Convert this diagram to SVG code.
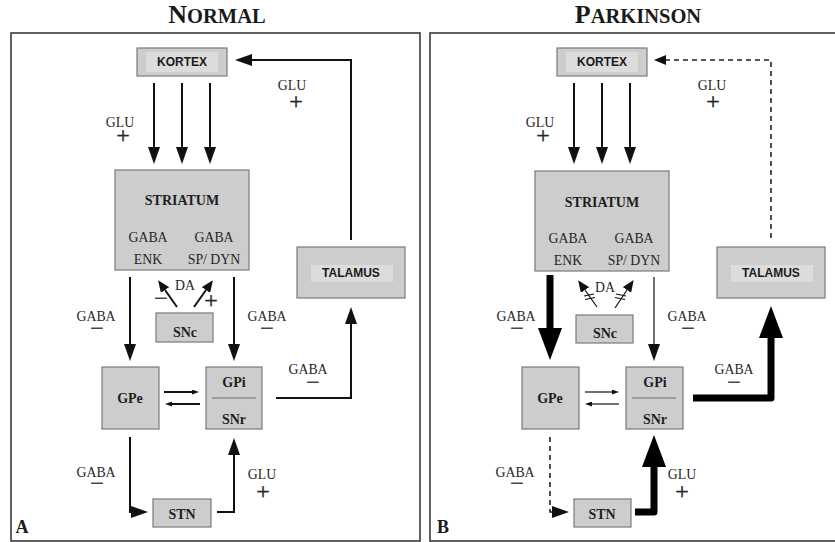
<svg xmlns="http://www.w3.org/2000/svg" width="835" height="542" viewBox="0 0 835 542">
<style>
.frame{fill:none;stroke:#3a3a3a;stroke-width:1.6}
.box{fill:#cdcdcd;stroke:#7a7a7a;stroke-width:1.2}
.inner{fill:#dcdcdc;stroke:none}
.div{stroke:#6e6e6e;stroke-width:1.2}
.t{font-family:"Liberation Serif","Times New Roman",serif;text-anchor:middle;fill:#262626}
.lab{font-size:13.8px}
.sign{font-size:24px;stroke:#262626;stroke-width:0.4}
.nb{font-family:"Liberation Serif","Times New Roman",serif;font-weight:bold;font-size:14px;text-anchor:middle;fill:#1e1e1e}
.ns{font-family:"Liberation Sans",Arial,sans-serif;font-weight:bold;font-size:12px;text-anchor:middle;fill:#1a1a1a}
.title{font-family:"Liberation Serif","Times New Roman",serif;font-weight:bold;text-anchor:middle;fill:#1a1a1a}
.c{fill:none;stroke:#111;stroke-width:2}
.thin{fill:none;stroke:#111;stroke-width:1.2}
.thick{fill:none;stroke:#000;stroke-width:7;stroke-linejoin:round}
.dash{fill:none;stroke:#222;stroke-width:1.6;stroke-dasharray:5 4}
.cut{stroke:#111;stroke-width:1.2}
</style>
<defs>
<marker id="h" markerUnits="userSpaceOnUse" markerWidth="17" markerHeight="12" refX="0" refY="6" orient="auto"><path d="M0,0 L17,6 L0,12 z" fill="#111"/></marker>
<marker id="hm" markerUnits="userSpaceOnUse" markerWidth="12" markerHeight="10" refX="0" refY="5" orient="auto"><path d="M0,0 L12,5 L0,10 z" fill="#111"/></marker>
<marker id="hs" markerUnits="userSpaceOnUse" markerWidth="7" markerHeight="5" refX="0" refY="2.5" orient="auto"><path d="M0,0 L7,2.5 L0,5 z" fill="#111"/></marker>
<marker id="hb" markerUnits="userSpaceOnUse" markerWidth="32" markerHeight="24" refX="0" refY="12" orient="auto"><path d="M0,0 L32,12 L0,24 z" fill="#000"/></marker>
</defs>
<rect width="835" height="542" fill="#fff"/>

<!-- titles and frames -->
<g id="titles">
<text class="title" x="217" y="23"><tspan font-size="26">N</tspan><tspan font-size="20.5">ORMAL</tspan></text>
<text class="title" x="638" y="23"><tspan font-size="26">P</tspan><tspan font-size="20.5">ARKINSON</tspan></text>
<rect class="frame" x="11" y="33" width="409" height="508"/>
<rect class="frame" x="430" y="33" width="410" height="508"/>
<text class="title" x="22" y="533" font-size="18" text-anchor="start">A</text>
<text class="title" x="443" y="533" font-size="18" text-anchor="start">B</text>
</g>

<!-- Panel A nodes -->
<g id="a-kortex"><rect class="box" x="137" y="48" width="90" height="28"/><rect class="inner" x="146" y="52" width="72" height="20"/><text class="ns" x="182" y="66">KORTEX</text></g>
<g id="a-striatum"><rect class="box" x="115" y="170" width="134" height="100"/>
<text class="nb" x="182" y="205">STRIATUM</text>
<text class="t lab" x="148" y="242">GABA</text><text class="t lab" x="214" y="242">GABA</text>
<text class="t lab" x="148" y="264">ENK</text><text class="t lab" x="214" y="264">SP/ DYN</text></g>
<g id="a-talamus"><rect class="box" x="297" y="247" width="108" height="51"/><rect class="inner" x="311" y="265" width="82" height="17"/><text class="ns" x="351" y="277" font-size="13">TALAMUS</text></g>
<g id="a-snc"><rect class="box" x="156" y="313" width="57" height="29"/><text class="nb" x="185" y="337">SNc</text></g>
<g id="a-gpe"><rect class="box" x="102" y="367" width="57" height="62"/><text class="nb" x="130" y="403">GPe</text></g>
<g id="a-gpi"><rect class="box" x="206" y="367" width="56" height="62"/><text class="nb" x="234" y="387">GPi</text><line class="div" x1="212" y1="398" x2="256" y2="398"/><text class="nb" x="234" y="424">SNr</text></g>
<g id="a-stn"><rect class="box" x="153" y="499" width="58" height="28"/><text class="nb" x="182" y="519">STN</text></g>

<!-- Panel B nodes -->
<g id="b-kortex"><rect class="box" x="557" y="48" width="90" height="28"/><rect class="inner" x="566" y="52" width="72" height="20"/><text class="ns" x="602" y="66">KORTEX</text></g>
<g id="b-striatum"><rect class="box" x="535" y="171" width="134" height="100"/>
<text class="nb" x="602" y="207">STRIATUM</text>
<text class="t lab" x="568" y="243">GABA</text><text class="t lab" x="634" y="243">GABA</text>
<text class="t lab" x="568" y="265">ENK</text><text class="t lab" x="634" y="265">SP/ DYN</text></g>
<g id="b-talamus"><rect class="box" x="717" y="247" width="108" height="51"/><rect class="inner" x="731" y="265" width="82" height="17"/><text class="ns" x="771" y="277" font-size="13">TALAMUS</text></g>
<g id="b-snc"><rect class="box" x="576" y="315" width="57" height="28"/><text class="nb" x="605" y="338">SNc</text></g>
<g id="b-gpe"><rect class="box" x="522" y="367" width="57" height="62"/><text class="nb" x="550" y="403">GPe</text></g>
<g id="b-gpi"><rect class="box" x="626" y="367" width="57" height="62"/><text class="nb" x="655" y="387">GPi</text><line class="div" x1="632" y1="398" x2="676" y2="398"/><text class="nb" x="655" y="424">SNr</text></g>
<g id="b-stn"><rect class="box" x="574" y="499" width="57" height="28"/><text class="nb" x="602" y="519">STN</text></g>

<!-- connectors -->
<g id="connectors">
<!-- A -->
<path class="c" d="M154,83 V147" marker-end="url(#h)"/>
<path class="c" d="M182,83 V147" marker-end="url(#h)"/>
<path class="c" d="M210,83 V147" marker-end="url(#h)"/>
<path class="c" d="M351,240 V60 H252" marker-end="url(#h)"/>
<path class="c" d="M130,277 V344" marker-end="url(#h)"/>
<path class="c" d="M234,277 V344" marker-end="url(#h)"/>
<path class="c" d="M177,307 L165,290" marker-end="url(#hm)"/>
<path class="c" d="M194,307 L206,290" marker-end="url(#hm)"/>
<path class="c" d="M164,392 H192" marker-end="url(#hs)"/>
<path class="c" d="M200,404 H172" marker-end="url(#hs)"/>
<path class="c" d="M276,398 H351 V324" marker-end="url(#h)"/>
<path class="c" d="M130,437 V512 H131" marker-end="url(#h)"/>
<path class="c" d="M217,512 H234 V455" marker-end="url(#h)"/>
<!-- B -->
<path class="c" d="M574,83 V147" marker-end="url(#h)"/>
<path class="c" d="M602,83 V147" marker-end="url(#h)"/>
<path class="c" d="M630,83 V147" marker-end="url(#h)"/>
<path class="dash" d="M771,238 V60 H666" marker-end="url(#hm)"/>
<path class="thick" d="M550,275 V328" marker-end="url(#hb)"/>
<path class="thin" d="M654,277 V344" marker-end="url(#h)"/>
<path class="thin" d="M597,307 L585,290" marker-end="url(#hm)"/>
<path class="thin" d="M615,308 L627,290" marker-end="url(#hm)"/>
<line class="cut" x1="584" y1="296" x2="594" y2="294"/>
<line class="cut" x1="585" y1="299.5" x2="595" y2="297.5"/>
<line class="cut" x1="616" y1="294" x2="626" y2="296"/>
<line class="cut" x1="615" y1="297.5" x2="625" y2="299.5"/>
<path class="thin" d="M585,392 H612" marker-end="url(#hs)"/>
<path class="thin" d="M619,404 H592" marker-end="url(#hs)"/>
<path class="thick" d="M693,398 H771 V338" marker-end="url(#hb)"/>
<path class="dash" d="M550,437 V512 H552" marker-end="url(#h)"/>
<path class="thick" d="M635,512 H654 V467" marker-end="url(#hb)"/>
</g>

<!-- labels (name + sign in one text) -->
<g id="labels">
<text class="t lab" x="120" y="127">GLU<tspan class="sign" x="123" y="143">+</tspan></text>
<text class="t lab" x="292" y="90">GLU<tspan class="sign" x="296" y="109">+</tspan></text>
<text class="t lab" x="185" y="290">DA</text>
<text class="t sign" x="161" y="306">−</text>
<text class="t sign" x="211" y="308">+</text>
<text class="t lab" x="96" y="321">GABA<tspan class="sign" x="97" y="336">−</tspan></text>
<text class="t lab" x="267" y="321">GABA<tspan class="sign" x="267" y="336">−</tspan></text>
<text class="t lab" x="308" y="374">GABA<tspan class="sign" x="313" y="390">−</tspan></text>
<text class="t lab" x="96" y="477">GABA<tspan class="sign" x="97" y="491">−</tspan></text>
<text class="t lab" x="262" y="479">GLU<tspan class="sign" x="263" y="499">+</tspan></text>

<text class="t lab" x="540" y="127">GLU<tspan class="sign" x="543" y="143">+</tspan></text>
<text class="t lab" x="712" y="90">GLU<tspan class="sign" x="713" y="109">+</tspan></text>
<text class="t lab" x="605" y="292">DA</text>
<text class="t lab" x="516" y="321">GABA<tspan class="sign" x="517" y="336">−</tspan></text>
<text class="t lab" x="687" y="321">GABA<tspan class="sign" x="688" y="336">−</tspan></text>
<text class="t lab" x="734" y="374">GABA<tspan class="sign" x="734" y="390">−</tspan></text>
<text class="t lab" x="515" y="477">GABA<tspan class="sign" x="517" y="491">−</tspan></text>
<text class="t lab" x="682" y="479">GLU<tspan class="sign" x="682" y="499">+</tspan></text>
</g>
</svg>
